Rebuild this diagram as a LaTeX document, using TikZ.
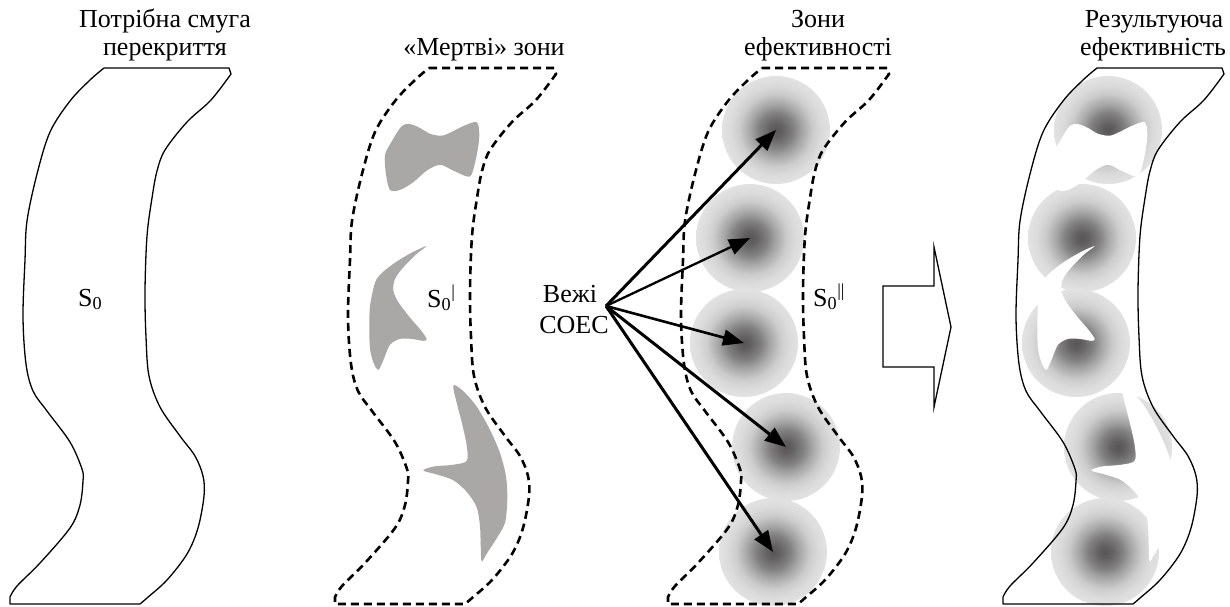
\documentclass[tikz,border=0pt]{standalone}
\usepackage{fontspec}
\setmainfont{Liberation Serif}
\usetikzlibrary{arrows.meta}
\definecolor{deadgray}{RGB}{170,167,167}
\definecolor{zcA}{RGB}{88,86,86}
\definecolor{zcB}{RGB}{98,96,96}
\definecolor{zcC}{RGB}{130,129,129}
\definecolor{zcD}{RGB}{166,166,166}
\definecolor{zcE}{RGB}{204,204,204}
\definecolor{zcF}{RGB}{219,219,219}
\definecolor{zcG}{RGB}{226,226,226}
\pgfdeclareradialshading{zone}{\pgfpointorigin}{color(0bp)=(zcA); color(3bp)=(zcB); color(8bp)=(zcC); color(12bp)=(zcD); color(17bp)=(zcE); color(21bp)=(zcF); color(25bp)=(zcG); color(50bp)=(zcG)}
\newcommand{\stripepath}{(104,68) -- (229,68) -- (231,74) -- plot[smooth,tension=0.55] coordinates {(231,74) (211,100) (187,122) (165,150) (157,171) (152,198) (147,236) (145,291) (146,337) (149,376) (160,407) (180,436) (195,456) (203,476) (204,496) (198,528) (187,554) (167,580) (147,598) (140,604)} -- (10,604) -- plot[smooth,tension=0.55] coordinates {(10,597) (17,586) (40,563) (70,528) (80,505) (83,481) (82,469) (70,442) (47,411) (33,391) (26,364) (23,317) (25,260) (27,221) (37,174) (50,132) (70,101) (90,80) (104,68)} -- cycle}
\newcommand{\deadA}{plot[smooth cycle,tension=0.5] coordinates {(401.7,126.1) (410,124.1) (420,128) (430,133.8) (441.7,135.7) (451.7,131.9) (463.3,126.1) (476.7,122.2) (479.3,135.7) (476.7,155.1) (471.7,174.4) (466.7,176.4) (453.3,170.6) (440,164.8) (426.7,170.6) (413.3,182.2) (400,189.9) (390,189.9) (386,174.4) (385,155.1) (391.7,141.5)}}
\newcommand{\deadB}{plot[smooth cycle,tension=0.5] coordinates {(426.7,246) (413.3,251.8) (396.7,261.5) (381.7,273.1) (375,282.8) (370,306) (369.3,329.2) (370,348.6) (373.3,362.1) (378.3,369.9) (383.3,360.2) (390,344.7) (400,338.9) (411.7,338.9) (423.3,340.8) (426.7,338.9) (420,329.2) (410,317.6) (398.3,302.1) (393.3,290.5) (395,278.9) (403.3,267.3) (416.7,253.8)}}
\newcommand{\deadC}{plot[smooth cycle,tension=0.5] coordinates {(453.3,385.3) (463.3,391.1) (476.7,406.6) (490,429.8) (500,453.1) (506,476.3) (507.3,499.5) (505,522.7) (496.7,538.2) (486.7,553.7) (481.7,561.4) (480.7,545.9) (480,526.6) (476.7,507.2) (466.7,491.8) (453.3,480.2) (436.7,474.4) (423.3,470.5) (433.3,466.6) (453.3,464.7) (466.7,460.8) (466.7,445.3) (461.7,422.1) (456.7,402.8)}}
\tikzset{
  lbl/.style={font=\fontsize{26}{30}\selectfont, inner sep=0pt, anchor=base},
  outline/.style={line width=1.3pt, line join=round},
  dashline/.style={line width=2.6pt, dash pattern=on 8pt off 5pt},
  deadzone/.style={fill=deadgray, draw=none},
  zonecirc/.style={circle, minimum size=108pt, inner sep=0pt, shade, shading=zone},
  ray/.style={line width=2.8pt, -{Triangle[length=21pt,width=16pt]}},
  bigarrow/.style={line width=1.3pt, line join=miter}
}
\begin{document}
\begin{tikzpicture}[x=1pt,y=-1pt]
\useasboundingbox[fill=white] (0,0) rectangle (1230,606);
% titles
\node[lbl] (t1a) at (165,27) {Потрібна смуга};
\node[lbl] (t1b) at (165,55) {перекриття};
\node[lbl] (t2) at (484,55) {«Мертві» зони};
\node[lbl] (t3a) at (818,27) {Зони};
\node[lbl] (t3b) at (818,55) {ефективності};
\node[lbl] (t4a) at (1154,27) {Результуюча};
\node[lbl] (t4b) at (1153,55) {ефективність};
% panel 1
\draw[outline] \stripepath;
\node[lbl, anchor=base west] (s0a) at (78,306) {S\textsubscript{0}};
% panel 2
\fill[deadzone] \deadA;
\fill[deadzone] \deadB;
\fill[deadzone] \deadC;
\begin{scope}[shift={(325,0)}]
\draw[dashline] \stripepath;
\end{scope}
\node[lbl, anchor=base west] (s0b) at (427,307) {S\textsubscript{0}\textsuperscript{|}};
% panel 3
\node[zonecirc] (z1) at (776,130) {};
\node[zonecirc] (z2) at (750,238) {};
\node[zonecirc] (z3) at (744,343) {};
\node[zonecirc] (z4) at (786,447) {};
\node[zonecirc] (z5) at (773,552) {};
\begin{scope}[shift={(658,0)}]
\draw[dashline] \stripepath;
\end{scope}
\node[lbl, anchor=base west] (s0c) at (813,306) {S\textsubscript{0}\textsuperscript{||}};
\node[lbl] (v1) at (570,302) {Вежі};
\node[lbl] (v2) at (574,333) {СОЕС};
\coordinate (src) at (606,306);
\draw[ray, line width=3pt] (src) -- (z1.center);
\draw[ray, line width=2.3pt] (src) -- (z2.center);
\draw[ray, line width=2.6pt] (src) -- (z3.center);
\draw[ray, line width=3pt] (src) -- (z4.center);
\draw[ray, line width=3pt] (src) -- (z5.center);
% big hollow arrow
\draw[bigarrow] (883,286) -- (934,286) -- (934,247) -- (951,327) -- (934,407) -- (934,367) -- (883,367) -- cycle;
% panel 4
\node[zonecirc] (r1) at (1108,130) {};
\node[zonecirc] (r2) at (1082,238) {};
\node[zonecirc] (r3) at (1076,343) {};
\node[zonecirc] (r4) at (1118,447) {};
\node[zonecirc] (r5) at (1105,552) {};
\begin{scope}[shift={(668,0)}]
\fill[white] \deadA;
\fill[white] \deadB;
\fill[white] \deadC;
\end{scope}
\begin{scope}[shift={(993,0)}]
\draw[outline] \stripepath;
\end{scope}
\end{tikzpicture}
\end{document}
